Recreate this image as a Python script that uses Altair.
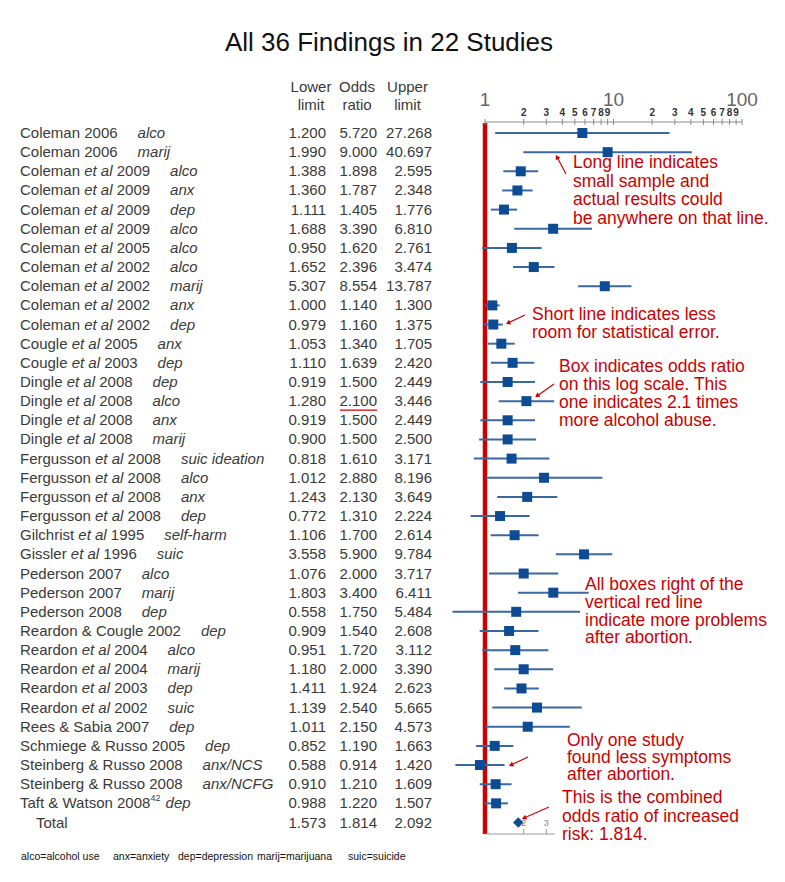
import altair as alt
import pandas as pd
import math

# ---------------- data ----------------
authors = ["Coleman", "Coleman", "Coleman", "Coleman", "Coleman", "Coleman", "Coleman",
           "Coleman", "Coleman", "Coleman", "Coleman", "Cougle", "Cougle", "Dingle",
           "Dingle", "Dingle", "Dingle", "Fergusson", "Fergusson", "Fergusson",
           "Fergusson", "Gilchrist", "Gissler", "Pederson", "Pederson", "Pederson",
           "Reardon & Cougle", "Reardon", "Reardon", "Reardon", "Reardon",
           "Rees & Sabia", "Schmiege & Russo", "Steinberg & Russo",
           "Steinberg & Russo", "Taft & Watson"]
et_al = [0, 0, 1, 1, 1, 1, 1, 1, 1, 1, 1, 1, 1, 1, 1, 1, 1, 1, 1, 1, 1, 1, 1,
         0, 0, 0, 0, 1, 1, 1, 1, 0, 0, 0, 0, 0]
years = ["2006", "2006", "2009", "2009", "2009", "2009", "2005", "2002", "2002",
         "2002", "2002", "2005", "2003", "2008", "2008", "2008", "2008", "2008",
         "2008", "2008", "2008", "1995", "1996", "2007", "2007", "2008", "2002",
         "2004", "2004", "2003", "2002", "2007", "2005", "2008", "2008", "2008"]
superscripts = [""] * 35 + ["42"]
outcomes = ["alco", "marij", "alco", "anx", "dep", "alco", "alco", "alco", "marij",
            "anx", "dep", "anx", "dep", "dep", "alco", "anx", "marij",
            "suic ideation", "alco", "anx", "dep", "self-harm", "suic", "alco",
            "marij", "dep", "dep", "alco", "marij", "dep", "suic", "dep", "dep",
            "anx/NCS", "anx/NCFG", "dep"]
lower = [1.200, 1.990, 1.388, 1.360, 1.111, 1.688, 0.950, 1.652, 5.307, 1.000,
         0.979, 1.053, 1.110, 0.919, 1.280, 0.919, 0.900, 0.818, 1.012, 1.243,
         0.772, 1.106, 3.558, 1.076, 1.803, 0.558, 0.909, 0.951, 1.180, 1.411,
         1.139, 1.011, 0.852, 0.588, 0.910, 0.988]
odds = [5.720, 9.000, 1.898, 1.787, 1.405, 3.390, 1.620, 2.396, 8.554, 1.140,
        1.160, 1.340, 1.639, 1.500, 2.100, 1.500, 1.500, 1.610, 2.880, 2.130,
        1.310, 1.700, 5.900, 2.000, 3.400, 1.750, 1.540, 1.720, 2.000, 1.924,
        2.540, 2.150, 1.190, 0.914, 1.210, 1.220]
upper = [27.268, 40.697, 2.595, 2.348, 1.776, 6.810, 2.761, 3.474, 13.787, 1.300,
         1.375, 1.705, 2.420, 2.449, 3.446, 2.449, 2.500, 3.171, 8.196, 3.649,
         2.224, 2.614, 9.784, 3.717, 6.411, 5.484, 2.608, 3.112, 3.390, 2.623,
         5.665, 4.573, 1.663, 1.420, 1.609, 1.507]
total_label = "Total"
total_lower, total_odds, total_upper = 1.573, 1.814, 2.092

axis_ticks = [1, 2, 3, 4, 5, 6, 7, 8, 9, 10, 20, 30, 40, 50, 60, 70, 80, 90, 100]
axis_minor_labels = [2, 3, 4, 5, 6, 7, 8, 9, 20, 30, 40, 50, 60, 70, 80, 90]
axis_major_labels = [1, 10, 100]
mini_axis_labels = [2, 3]

title_text = "All 36 Findings in 22 Studies"
headers = [("Lower", "limit"), ("Odds", "ratio"), ("Upper", "limit")]
notes = [
    ["Long line indicates", "small sample and", "actual results could",
     "be anywhere on that line."],
    ["Short line indicates less", "room for statistical error."],
    ["Box indicates odds ratio", "on this log scale.  This",
     "one indicates 2.1 times", "more alcohol abuse."],
    ["All boxes right of the", "vertical red line", "indicate more problems",
     "after abortion."],
    ["Only one study", "found less symptoms", "after abortion."],
    ["This is the combined", "odds ratio of increased", "risk: 1.814."],
]
footnote = ["alco=alcohol use", "anx=anxiety", "dep=depression", "marij=marijuana",
            "suic=suicide"]

# ---------------- layout / style ----------------
def P(v):
    return v - 8  # page px -> chart px (8px body margin, padding 0)

W, H = 769, 866
ROW0, ROWN = 133, 822.5
N = 36
row_step = (ROWN - ROW0) / N

def row_y(i):
    return ROW0 + i * row_step

XS = alt.Scale(type="log", domain=[1, 100], range=[P(485), P(742)], nice=False)
YS = alt.Scale(type="linear", domain=[0, N], range=[P(ROW0), P(ROWN)], nice=False,
               zero=False)

BOX = "#0d4c93"
LINE = "#3a68a2"
RED = "#cc0000"
TXT = "#3a3a3a"
FONT = "Liberation Sans"

AW = {' ': .278, '&': .667, '-': .333, '.': .278, '/': .278,
      'A': .667, 'B': .667, 'C': .722, 'D': .722, 'E': .667, 'F': .611, 'G': .778,
      'H': .722, 'I': .278, 'J': .5, 'K': .667, 'L': .556, 'M': .833, 'N': .722,
      'O': .778, 'P': .667, 'Q': .778, 'R': .722, 'S': .667, 'T': .611, 'U': .722,
      'V': .667, 'W': .944, 'X': .667, 'Y': .667, 'Z': .611,
      'a': .556, 'b': .556, 'c': .5, 'd': .556, 'e': .556, 'f': .278, 'g': .556,
      'h': .556, 'i': .222, 'j': .222, 'k': .5, 'l': .222, 'm': .833, 'n': .556,
      'o': .556, 'p': .556, 'q': .556, 'r': .333, 's': .5, 't': .278, 'u': .556,
      'v': .5, 'w': .722, 'x': .5, 'y': .5, 'z': .5}

def tw(s, size):
    return sum(AW.get(c, .556) for c in s) * size

TS = 15  # table font size

# ---------------- tables ----------------
rows = pd.DataFrame({"idx": list(range(N)), "lo": lower, "or": odds, "hi": upper})
tot = pd.DataFrame({"idx": [N], "label": [total_label], "lo": [total_lower],
                    "or": [total_odds], "hi": [total_upper]})
nums = pd.concat([rows, tot[["idx", "lo", "or", "hi"]]], ignore_index=True)

segs = []
sp = tw(" ", TS)
for i in range(N):
    x = 20
    if et_al[i]:
        s1 = authors[i]
        segs.append((i, s1, P(x), "n")); x += tw(s1, TS) + sp
        segs.append((i, "et al", P(x), "i")); x += tw("et al", TS) + sp
        segs.append((i, years[i], P(x), "n")); x += tw(years[i], TS)
    else:
        s1 = authors[i] + " " + years[i]
        segs.append((i, s1, P(x), "n")); x += tw(s1, TS)
    gap = 20
    if superscripts[i]:
        segs.append((i, superscripts[i], P(x - 2), "s"))
        x += tw(superscripts[i], 9) - 2
        gap = 5
    segs.append((i, outcomes[i], P(x + gap), "i"))
segs.append((N, total_label, P(36), "n"))
seg_df = pd.DataFrame(segs, columns=["idx", "txt", "px", "st"])

def seg_layer(style, **kw):
    return alt.Chart(seg_df[seg_df.st == style]).mark_text(
        align="left", baseline="middle", font=FONT, color=TXT, **kw
    ).encode(
        x=alt.X("px:Q", scale=None),
        y=alt.Y("idx:Q", scale=YS, axis=None),
        text="txt:N",
    )

layers = []
layers.append(seg_layer("n", fontSize=TS))
layers.append(seg_layer("i", fontSize=TS, fontStyle="italic"))
layers.append(seg_layer("s", fontSize=9, dy=-5))

for col, xr in (("lo", 326), ("or", 377), ("hi", 432)):
    layers.append(alt.Chart(nums).mark_text(
        align="right", baseline="middle", font=FONT, fontSize=TS, color=TXT
    ).encode(
        x=alt.value(P(xr)),
        y=alt.Y("idx:Q", scale=YS, axis=None),
        text=alt.Text(f"{col}:Q", format=".3f"),
    ))

# headers
hdr = []
for (a, b), cx in zip(headers, (311, 357, 407.5)):
    hdr.append((a, P(cx), P(87)))
    hdr.append((b, P(cx), P(105)))
hdr_df = pd.DataFrame(hdr, columns=["txt", "px", "py"])
layers.append(alt.Chart(hdr_df).mark_text(
    align="center", baseline="middle", font=FONT, fontSize=TS, color=TXT
).encode(x=alt.X("px:Q", scale=None), y=alt.Y("py:Q", scale=None), text="txt:N"))

# title
layers.append(alt.Chart(pd.DataFrame({"t": [title_text]})).mark_text(
    align="center", baseline="middle", font=FONT, fontSize=26, color="#111111"
).encode(x=alt.value(P(389)), y=alt.value(P(43)), text="t:N"))

# ---------------- forest plot ----------------
layers.append(alt.Chart(pd.DataFrame({"v": [1]})).mark_rule(
    color=RED, strokeWidth=4.5
).encode(x=alt.X("v:Q", scale=XS, axis=None), y=alt.value(P(123)),
         y2=alt.value(P(834))))

layers.append(alt.Chart(rows).mark_rule(color=LINE, strokeWidth=2).encode(
    x=alt.X("lo:Q", scale=XS, axis=None), x2="hi:Q",
    y=alt.Y("idx:Q", scale=YS, axis=None)))

layers.append(alt.Chart(rows).mark_square(color=BOX, size=100, opacity=1).encode(
    x=alt.X("or:Q", scale=XS, axis=None), y=alt.Y("idx:Q", scale=YS, axis=None)))

layers.append(alt.Chart(tot).mark_point(
    shape="diamond", filled=True, size=110, color=BOX, opacity=1
).encode(x=alt.X("or:Q", scale=XS, axis=None), y=alt.Y("idx:Q", scale=YS, axis=None)))

# top log axis
layers.append(alt.Chart(pd.DataFrame({"a": [axis_ticks[0]], "b": [axis_ticks[-1]]})).mark_rule(
    color="#8c8c8c", strokeWidth=1
).encode(x=alt.X("a:Q", scale=XS, axis=None), x2="b:Q", y=alt.value(P(122))))
layers.append(alt.Chart(pd.DataFrame({"v": axis_ticks})).mark_rule(
    color="#8c8c8c", strokeWidth=1
).encode(x=alt.X("v:Q", scale=XS, axis=None), y=alt.value(P(119)), y2=alt.value(P(125))))
minor_df = pd.DataFrame({"v": axis_minor_labels,
                         "t": [str(v if v < 10 else v // 10) for v in axis_minor_labels]})
layers.append(alt.Chart(minor_df).mark_text(
    align="center", baseline="middle", font=FONT, fontSize=10, fontWeight="bold",
    color="#333333"
).encode(x=alt.X("v:Q", scale=XS, axis=None), y=alt.value(P(113)), text="t:N"))
layers.append(alt.Chart(pd.DataFrame({"v": axis_major_labels})).mark_text(
    align="center", baseline="middle", font=FONT, fontSize=19, color="#666666"
).encode(x=alt.X("v:Q", scale=XS, axis=None), y=alt.value(P(100)), text="v:N"))

# small bottom axis
layers.append(alt.Chart(pd.DataFrame({"a": [1], "b": [3.5]})).mark_rule(
    color="#9a9a9a", strokeWidth=1
).encode(x=alt.X("a:Q", scale=XS, axis=None), x2="b:Q", y=alt.value(P(834))))
layers.append(alt.Chart(pd.DataFrame({"v": mini_axis_labels})).mark_rule(
    color="#9a9a9a", strokeWidth=1
).encode(x=alt.X("v:Q", scale=XS, axis=None), y=alt.value(P(829)), y2=alt.value(P(834))))
layers.append(alt.Chart(pd.DataFrame({"v": mini_axis_labels})).mark_text(
    align="center", baseline="middle", font=FONT, fontSize=9, color="#888888"
).encode(x=alt.X("v:Q", scale=XS, axis=None), y=alt.value(P(823)), text="v:N"))

# red underline of 2.100
layers.append(alt.Chart(pd.DataFrame({"a": [P(340)], "b": [P(377)]})).mark_rule(
    color=RED, strokeWidth=1.2
).encode(x=alt.X("a:Q", scale=None), x2="b:Q", y=alt.value(P(row_y(14) + 9))))

# ---------------- annotations ----------------
note_pos = [(573, 163, 18.5), (532, 315, 18), (559, 367, 18), (585, 585, 17.8),
            (567, 741, 17), (562, 798, 18.5)]
ann = []
for lines, (ax, ay, step) in zip(notes, note_pos):
    for k, ln in enumerate(lines):
        ann.append((ln, P(ax), P(ay + k * step)))
ann_df = pd.DataFrame(ann, columns=["txt", "px", "py"])
layers.append(alt.Chart(ann_df).mark_text(
    align="left", baseline="middle", font=FONT, fontSize=17.5, color=RED
).encode(x=alt.X("px:Q", scale=None), y=alt.Y("py:Q", scale=None), text="txt:N"))

arrows = [(566, 174, 557, 157), (525, 315, 508, 323), (554, 384, 537, 396),
          (528, 757, 511, 765), (549, 807, 524, 818)]
arr_df = pd.DataFrame(arrows, columns=["x1", "y1", "x2", "y2"])
arr_df = arr_df.apply(lambda c: c - 8)
arr_df["ang"] = [
    (math.degrees(math.atan2(r.x2 - r.x1, -(r.y2 - r.y1))) + 360) % 360
    for r in arr_df.itertuples()
]
layers.append(alt.Chart(arr_df).mark_rule(color=RED, strokeWidth=1.2).encode(
    x=alt.X("x1:Q", scale=None), y=alt.Y("y1:Q", scale=None), x2="x2:Q", y2="y2:Q"))
layers.append(alt.Chart(arr_df).mark_point(
    shape="triangle-up", filled=True, size=28, color=RED, opacity=1
).encode(x=alt.X("x2:Q", scale=None), y=alt.Y("y2:Q", scale=None),
         angle=alt.Angle("ang:Q", scale=None)))

# footnote
foot_df = pd.DataFrame({"txt": footnote,
                        "px": [P(v) for v in (21, 113, 178, 257, 348)]})
layers.append(alt.Chart(foot_df).mark_text(
    align="left", baseline="middle", font=FONT, fontSize=10.5, color="#111111"
).encode(x=alt.X("px:Q", scale=None), y=alt.value(P(857)), text="txt:N"))

chart = alt.layer(*layers).properties(
    width=W, height=H, autosize=alt.AutoSizeParams(type="none"), padding=0,
    background="white"
).configure_view(strokeOpacity=0)

chart.save("out.html", embed_options={"renderer": "svg", "actions": False})
